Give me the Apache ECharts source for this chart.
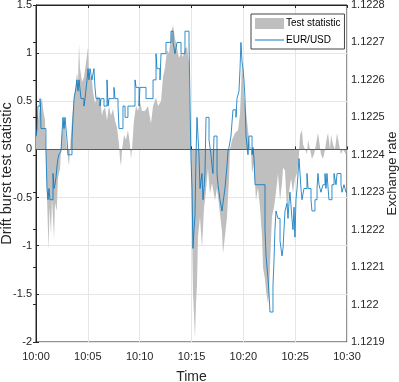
<!DOCTYPE html>
<html>
<head>
<meta charset="utf-8">
<script src="https://cdn.jsdelivr.net/npm/echarts@6/dist/echarts.min.js"></script>
<style>
html, body { margin: 0; padding: 0; background: #fff; }
#chartDiv { width: 399px; height: 382px; }
</style>
</head>
<body>
<div id="chartDiv"></div>
<script>
// minutes after 10:00
var statTime = [0, 0.19, 0.39, 0.58, 0.68, 0.87, 0.96, 1.06, 1.21, 1.30, 1.45, 1.54, 1.74, 1.83, 2.00, 2.12, 2.32, 2.41, 2.51, 2.70,
    2.80, 2.89, 2.99, 3.09, 3.18, 3.28, 3.47, 3.67, 3.76, 3.95, 4.05, 4.15, 4.24, 4.44, 4.63, 4.82, 5.02, 5.11, 5.21, 5.40,
    5.50, 5.69, 5.88, 6.17, 6.37, 6.46, 6.66, 6.85, 7.04, 7.23, 7.43, 7.62, 7.81, 8.01, 8.10, 8.20, 8.30, 8.49, 8.68, 8.87,
    9.07, 9.16, 9.26, 9.45, 9.65, 9.84, 10.03, 10.22, 10.51, 10.80, 11.09, 11.29, 11.58, 11.77, 12.06, 12.25, 12.44, 12.64, 12.83, 13.02,
    13.22, 13.41, 13.60, 13.79, 13.99, 14.18, 14.37, 14.57, 14.76, 14.86, 14.95, 15.05, 15.14, 15.34, 15.43, 15.53, 15.63, 15.82, 16.01, 16.21,
    16.30, 16.50, 16.59, 16.78, 16.98, 17.27, 17.46, 17.75, 17.94, 18.04, 18.23, 18.42, 18.62, 18.71, 18.91, 19.20, 19.49, 19.68, 19.77, 19.87,
    19.97, 20.06, 20.26, 20.45, 20.64, 20.74, 20.84, 21.03, 21.22, 21.41, 21.61, 21.80, 21.90, 22.09, 22.19, 22.38, 22.48, 22.57, 22.76, 22.96,
    23.05, 23.25, 23.34, 23.54, 23.73, 23.83, 24.02, 24.21, 24.40, 24.60, 24.79, 24.98, 25.18, 25.37, 25.47, 25.66, 25.76, 25.95, 26.14, 26.24,
    26.43, 26.62, 26.82, 27.01, 27.20, 27.30, 27.49, 27.68, 27.88, 28.07, 28.17, 28.36, 28.46, 28.65, 28.84, 29.04, 29.23, 29.42, 29.61, 29.90, 30];
var statValue = [0.12, 0.3, 0.45, 0.54, 0.42, 0.3, 0, -0.5, -1.05, -0.6, -0.88, -0.5, -0.93, -0.55, -0.64, -0.3, -0.2, 0, 0.15, 0.35,
    0.25, 0.1, 0, -0.1, -0.17, 0, 0.3, 0.54, 0.6, 0.8, 0.7, 1.1, 0.85, 0.7, 0.75, 0.9, 1.06, 0.8, 0.82, 0.72,
    0.6, 0.48, 0.55, 0.54, 0.35, 0.4, 0.44, 0.3, 0.45, 0.35, 0.42, 0.3, 0.23, 0.05, -0.1, -0.17, 0, 0.15, 0.1, 0.2,
    0.05, -0.1, 0, 0.3, 0.45, 0.4, 0.5, 0.4, 0.4, 0.45, 0.27, 0.45, 0.54, 0.45, 0.5, 0.75, 0.85, 1.03, 1.0, 1.2,
    1.29, 1.15, 1.06, 0.95, 1.0, 0.96, 1.05, 1.06, 0.9, 0.4, 0, -0.8, -1.47, -1.96, -1.6, -1.4, -0.9, -0.7, -1.02, -0.6,
    -0.53, -0.3, -0.2, -0.46, -0.35, -0.53, -0.4, -0.67, -0.85, -1.08, -0.9, -0.71, -0.3, 0, 0.1, 0.17, 0.2, 0.37, 0.6, 0.93,
    0.75, 0.55, 0.4, 0.2, 0.05, 0, -0.25, -0.15, -0.53, -0.4, -0.6, -0.9, -1.23, -1.35, -1.47, -1.6, -1.5, -1.23, -0.7, -0.6,
    -0.53, -0.35, -0.25, -0.53, -0.35, -0.19, -0.22, -0.64, -0.45, -0.3, -0.45, -0.3, -0.25, -0.05, 0.15, 0.2, 0.05, 0, -0.05, 0.1,
    0, -0.1, -0.05, 0.05, 0.17, 0.1, -0.05, -0.1, 0, 0.13, 0.17, 0, 0.15, 0.05, 0, 0.17, 0.05, -0.05, 0, -0.05, -0.05];

var rateTime = [0, 0.10, 0.19, 0.39, 0.43, 0.48, 0.96, 1.06, 1.16, 1.25, 1.35, 1.64, 1.74, 1.83, 1.93, 2.03, 2.12, 2.22, 2.41, 2.51,
    2.60, 2.70, 2.80, 2.89, 2.99, 3.09, 3.47, 3.57, 3.67, 3.86, 3.95, 4.05, 4.15, 4.34, 4.63, 4.73, 4.92, 5.02, 5.11, 5.21,
    5.40, 5.59, 5.69, 5.79, 6.17, 6.27, 6.56, 6.85, 6.95, 7.04, 7.52, 7.62, 7.91, 8.01, 8.39, 8.59, 8.87, 9.55, 9.65, 9.94,
    10.03, 10.61, 11.29, 11.58, 11.67, 11.96, 12.06, 12.54, 13.02, 13.22, 13.41, 13.60, 13.99, 14.37, 14.76, 14.95, 15.05, 15.14, 15.24, 15.34,
    15.43, 15.53, 15.72, 15.82, 16.01, 16.11, 16.21, 16.30, 16.40, 16.69, 16.88, 16.98, 17.07, 17.17, 17.46, 17.56, 17.75, 17.94, 18.13, 18.23,
    18.42, 18.52, 18.62, 18.81, 19.00, 19.29, 19.39, 19.58, 19.68, 19.77, 19.87, 19.97, 20.06, 20.16, 20.26, 20.45, 20.55, 20.84, 20.93, 21.03,
    21.13, 22.09, 22.19, 22.38, 22.48, 22.57, 22.86, 22.96, 23.05, 23.15, 23.34, 23.54, 23.73, 23.83, 23.92, 24.02, 24.21, 24.31, 24.40, 24.50,
    24.69, 24.79, 24.89, 24.98, 25.08, 25.18, 25.37, 25.47, 25.56, 25.66, 25.85, 26.14, 26.24, 26.53, 26.62, 26.91, 27.11, 27.20, 27.30, 27.49,
    27.68, 27.88, 27.97, 28.07, 28.26, 28.55, 28.75, 28.94, 29.04, 29.42, 29.52, 29.71, 29.90, 30];
var rateValue = [1.12245, 1.12247, 1.12253, 1.12255, 1.12253, 1.12247, 1.12241, 1.12231, 1.12228, 1.12231, 1.12228, 1.12235, 1.12231, 1.12232, 1.12234, 1.12237, 1.12239, 1.12240, 1.12241, 1.12246,
    1.12250, 1.12247, 1.12250, 1.12247, 1.12244, 1.12240, 1.12244, 1.12250, 1.12255, 1.12258, 1.12260, 1.12257, 1.12260, 1.12255, 1.12253, 1.12255, 1.12260, 1.12263, 1.12260, 1.12263,
    1.12260, 1.12263, 1.12258, 1.12255, 1.12253, 1.12255, 1.12253, 1.12260, 1.12253, 1.12255, 1.12258, 1.12255, 1.12253, 1.12247, 1.12253, 1.12250, 1.12253, 1.12260, 1.12258, 1.12253,
    1.12258, 1.12255, 1.12260, 1.12267, 1.12263, 1.12260, 1.12267, 1.12270, 1.12273, 1.12270, 1.12267, 1.12270, 1.12267, 1.12273, 1.12270, 1.12239, 1.12231, 1.12215, 1.12220, 1.12224,
    1.12239, 1.12250, 1.12240, 1.12231, 1.12235, 1.12228, 1.12231, 1.12235, 1.12250, 1.12244, 1.12240, 1.12237, 1.12235, 1.12245, 1.12235, 1.12232, 1.12228, 1.12225, 1.12229, 1.12231,
    1.12237, 1.12241, 1.12242, 1.12245, 1.12252, 1.12250, 1.12255, 1.12257, 1.12263, 1.12270, 1.12265, 1.12263, 1.12260, 1.12255, 1.12245, 1.12240, 1.12245, 1.12240, 1.12242, 1.12239,
    1.12232, 1.12220, 1.12213, 1.12207, 1.12203, 1.12198, 1.12205, 1.12212, 1.12220, 1.12225, 1.12223, 1.12217, 1.12213, 1.12215, 1.12220, 1.12225, 1.12227, 1.12223, 1.12227, 1.12230,
    1.12223, 1.12220, 1.12226, 1.12218, 1.12228, 1.12231, 1.12239, 1.12235, 1.12231, 1.12228, 1.12231, 1.12235, 1.12231, 1.12228, 1.12225, 1.12228, 1.12231, 1.12235, 1.12232, 1.12230,
    1.12232, 1.12235, 1.12231, 1.12235, 1.12228, 1.12232, 1.12235, 1.12232, 1.12235, 1.12232, 1.12230, 1.12232, 1.12230, 1.12230];

var labelFont = "'Liberation Sans', Arial, sans-serif";

function pairs(xs, ys) {
    var out = [];
    for (var i = 0; i < xs.length; i++) {
        out.push([xs[i], ys[i]]);
    }
    return out;
}

var myChart = echarts.init(document.getElementById('chartDiv'));

var option = {
    animation: false,
    backgroundColor: '#fff',
    grid: {
        left: 36, right: 52, top: 5, bottom: 40,
        containLabel: false,
        outerBoundsMode: 'none',
        show: true, borderColor: '#262626', borderWidth: 1
    },
    legend: {
        orient: 'vertical',
        left: 251, top: 14,
        itemWidth: 29, itemHeight: 11, itemGap: 6,
        padding: [4, 4, 4, 4],
        borderColor: '#444', borderWidth: 1,
        backgroundColor: '#fff',
        textStyle: { fontSize: 10, fontFamily: labelFont, color: '#000', padding: [0, 0, 0, -3] },
        data: [
            { name: 'Test statistic', icon: 'rect' },
            { name: 'EUR/USD', icon: 'path://M0,0H30V1H0Z' }
        ]
    },
    xAxis: [{
        type: 'value',
        min: 0, max: 30, interval: 5,
        name: 'Time',
        nameLocation: 'middle',
        nameGap: 28,
        nameMoveOverlap: false,
        nameTextStyle: { fontSize: 14, fontFamily: labelFont, color: '#262626' },
        axisLine: { show: true, lineStyle: { color: '#262626' } },
        axisTick: { show: true, inside: true, length: 3, lineStyle: { color: '#262626' } },
        axisLabel: {
            margin: 9, fontSize: 11, fontFamily: labelFont, color: '#262626',
            formatter: function (v) {
                var m = Math.round(v);
                return '10:' + (m < 10 ? '0' : '') + m;
            }
        },
        splitLine: { show: true, lineStyle: { color: '#e6e6e6' } }
    }, {
        type: 'value',
        position: 'top',
        min: 0, max: 30, interval: 5,
        axisLine: { show: true, lineStyle: { color: '#262626' } },
        axisTick: { show: true, inside: true, length: 3, lineStyle: { color: '#262626' } },
        axisLabel: { show: false },
        splitLine: { show: false }
    }],
    yAxis: [{
        type: 'value',
        min: -2, max: 1.5, interval: 0.5,
        name: 'Drift burst test statistic',
        nameLocation: 'middle',
        nameGap: 22,
        nameMoveOverlap: false,
        nameTextStyle: { fontSize: 14.5, fontFamily: labelFont, color: '#262626' },
        axisLine: { show: true, lineStyle: { color: '#262626' } },
        axisTick: { show: true, inside: true, length: 3, lineStyle: { color: '#262626' } },
        axisLabel: { margin: 4, fontSize: 11, fontFamily: labelFont, color: '#262626' },
        splitLine: { show: true, lineStyle: { color: '#e6e6e6' } }
    }, {
        type: 'value',
        position: 'right',
        min: 1.1219, max: 1.1228, interval: 0.0001,
        name: 'Exchange rate',
        nameLocation: 'middle',
        nameGap: 39,
        nameRotate: 90,
        nameMoveOverlap: false,
        nameTextStyle: { fontSize: 13, fontFamily: labelFont, color: '#262626' },
        axisLine: { show: true, lineStyle: { color: '#262626' } },
        axisTick: { show: true, inside: true, length: 3, lineStyle: { color: '#262626' } },
        axisLabel: {
            margin: 4, fontSize: 11, fontFamily: labelFont, color: '#262626',
            formatter: function (v) { return String(parseFloat(v.toFixed(4))); }
        },
        splitLine: { show: false }
    }],
    series: [{
        name: 'Test statistic',
        type: 'line',
        xAxisIndex: 0,
        yAxisIndex: 0,
        data: pairs(statTime, statValue),
        symbol: 'none',
        itemStyle: { color: '#bfbfbf' },
        lineStyle: { width: 0 },
        areaStyle: { color: '#bfbfbf', opacity: 1, origin: 0 },
        markLine: {
            silent: true,
            symbol: 'none',
            label: { show: false },
            lineStyle: { color: '#5a5a5a', width: 1, type: 'solid' },
            data: [{ yAxis: 0 }]
        },
        z: 2
    }, {
        name: 'EUR/USD',
        type: 'line',
        xAxisIndex: 0,
        yAxisIndex: 1,
        step: 'end',
        data: pairs(rateTime, rateValue),
        symbol: 'none',
        itemStyle: { color: '#0072bd' },
        lineStyle: { color: '#0072bd', width: 0.8 },
        z: 3
    }]
};

myChart.setOption(option);
</script>
</body>
</html>
